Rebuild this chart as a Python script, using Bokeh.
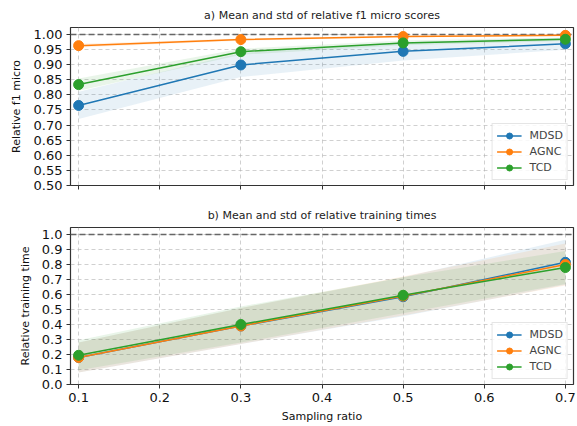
from bokeh.plotting import figure
from bokeh.layouts import column
from bokeh.models import Range1d, FixedTicker, NumeralTickFormatter, Span
from bokeh.embed import file_html
from bokeh.resources import INLINE

ratios = [0.1, 0.3, 0.5, 0.7]
series = ["MDSD", "AGNC", "TCD"]
colors = ["#1f77b4", "#ff7f0e", "#2ca02c"]

f1_mean = {
    "MDSD": [0.765, 0.899, 0.944, 0.969],
    "AGNC": [0.963, 0.983, 0.993, 0.997],
    "TCD": [0.834, 0.943, 0.972, 0.984],
}
f1_std = {
    "MDSD": [0.045, 0.040, 0.030, 0.020],
    "AGNC": [0.006, 0.004, 0.003, 0.002],
    "TCD": [0.020, 0.010, 0.008, 0.006],
}
time_mean = {
    "MDSD": [0.180, 0.390, 0.585, 0.815],
    "AGNC": [0.180, 0.390, 0.590, 0.800],
    "TCD": [0.195, 0.400, 0.595, 0.780],
}
time_std = {
    "MDSD": [0.100, 0.120, 0.130, 0.150],
    "AGNC": [0.100, 0.120, 0.130, 0.140],
    "TCD": [0.100, 0.120, 0.120, 0.110],
}
x_ticks = [0.1, 0.2, 0.3, 0.4, 0.5, 0.6, 0.7]
f1_ticks = [0.50, 0.55, 0.60, 0.65, 0.70, 0.75, 0.80, 0.85, 0.90, 0.95, 1.00]
time_ticks = [0.0, 0.1, 0.2, 0.3, 0.4, 0.5, 0.6, 0.7, 0.8, 0.9, 1.0]

FONT = "DejaVu Sans"


def make(title, ylabel, means, stds, yr, yticks, yfmt, height, show_x, bb, bt, lab_off):
    p = figure(width=576, height=height, output_backend="svg", toolbar_location=None,
               x_range=Range1d(0.09, 0.71), y_range=Range1d(*yr),
               min_border_left=70, min_border_right=3, min_border_top=bt, min_border_bottom=bb)
    p.title.text = title
    p.title.align = "center"
    p.title.text_font = FONT
    p.title.text_font_size = "11px"
    p.title.text_font_style = "normal"
    p.title.text_color = "#222"
    p.title.standoff = 12
    p.outline_line_color = "#333"
    p.outline_line_width = 1.2
    p.outline_line_alpha = 1
    for g in (p.xgrid, p.ygrid):
        g.grid_line_color = "#b0b0b0"
        g.grid_line_dash = "4 3"
        g.grid_line_alpha = 0.6
    p.xaxis.ticker = FixedTicker(ticks=x_ticks)
    p.yaxis.ticker = FixedTicker(ticks=yticks)
    p.yaxis.formatter = NumeralTickFormatter(format=yfmt)
    for ax in (p.xaxis, p.yaxis):
        ax.axis_line_color = None
        ax.major_tick_in = 0
        ax.major_tick_out = 4
        ax.minor_tick_line_color = None
        ax.major_tick_line_color = "#333"
        ax.major_label_text_font = FONT
        ax.major_label_text_font_size = "13px"
        ax.major_label_text_color = "#111"
        ax.axis_label_text_font = FONT
        ax.axis_label_text_font_size = "11px"
        ax.axis_label_text_font_style = "normal"
        ax.axis_label_text_color = "#111"
    p.yaxis.axis_label = ylabel
    p.yaxis.major_label_standoff = 4
    p.yaxis.axis_label_standoff = lab_off
    if show_x:
        p.xaxis.axis_label = "Sampling ratio"
        p.xaxis.major_label_standoff = 4
        p.xaxis.axis_label_standoff = 5
    else:
        p.xaxis.major_label_text_font_size = "1px"
        p.xaxis.major_label_text_color = None
        p.xaxis.major_label_standoff = 0
    p.add_layout(Span(location=1.0, dimension="width", line_color="#666",
                      line_dash="6 3", line_width=1.5, level="underlay"))
    for s, c in zip(series, colors):
        m = means[s]
        sd = stds[s]
        lo = [a - b for a, b in zip(m, sd)]
        hi = [a + b for a, b in zip(m, sd)]
        p.varea(x=ratios, y1=lo, y2=hi, fill_color=c, fill_alpha=0.1)
    for s, c in zip(series, colors):
        p.line(ratios, means[s], line_color=c, line_width=1.5, legend_label=s)
        p.scatter(ratios, means[s], size=10, fill_color=c, line_color=c, legend_label=s)
    p.legend.location = "bottom_right"
    p.legend.label_text_font = FONT
    p.legend.label_text_font_size = "11px"
    p.legend.border_line_color = "#cccccc"
    p.legend.background_fill_alpha = 0.85
    p.legend.glyph_width = 25
    p.legend.glyph_height = 15
    p.legend.label_height = 15
    p.legend.spacing = 1
    p.legend.padding = 4
    p.legend.margin = 5
    p.legend.label_standoff = 8
    return p


p1 = make("a) Mean and std of relative f1 micro scores", "Relative f1 micro",
          f1_mean, f1_std, (0.5, 1.023), f1_ticks, "0.00", 200, False, 15, 27, 8)
p2 = make("b) Mean and std of relative training times", "Relative training time",
          time_mean, time_std, (0.0, 1.047), time_ticks, "0.0", 226, True, 42, 27, 7)

layout = column(p1, p2, spacing=0)
open("out.html", "w").write(file_html(layout, INLINE))
